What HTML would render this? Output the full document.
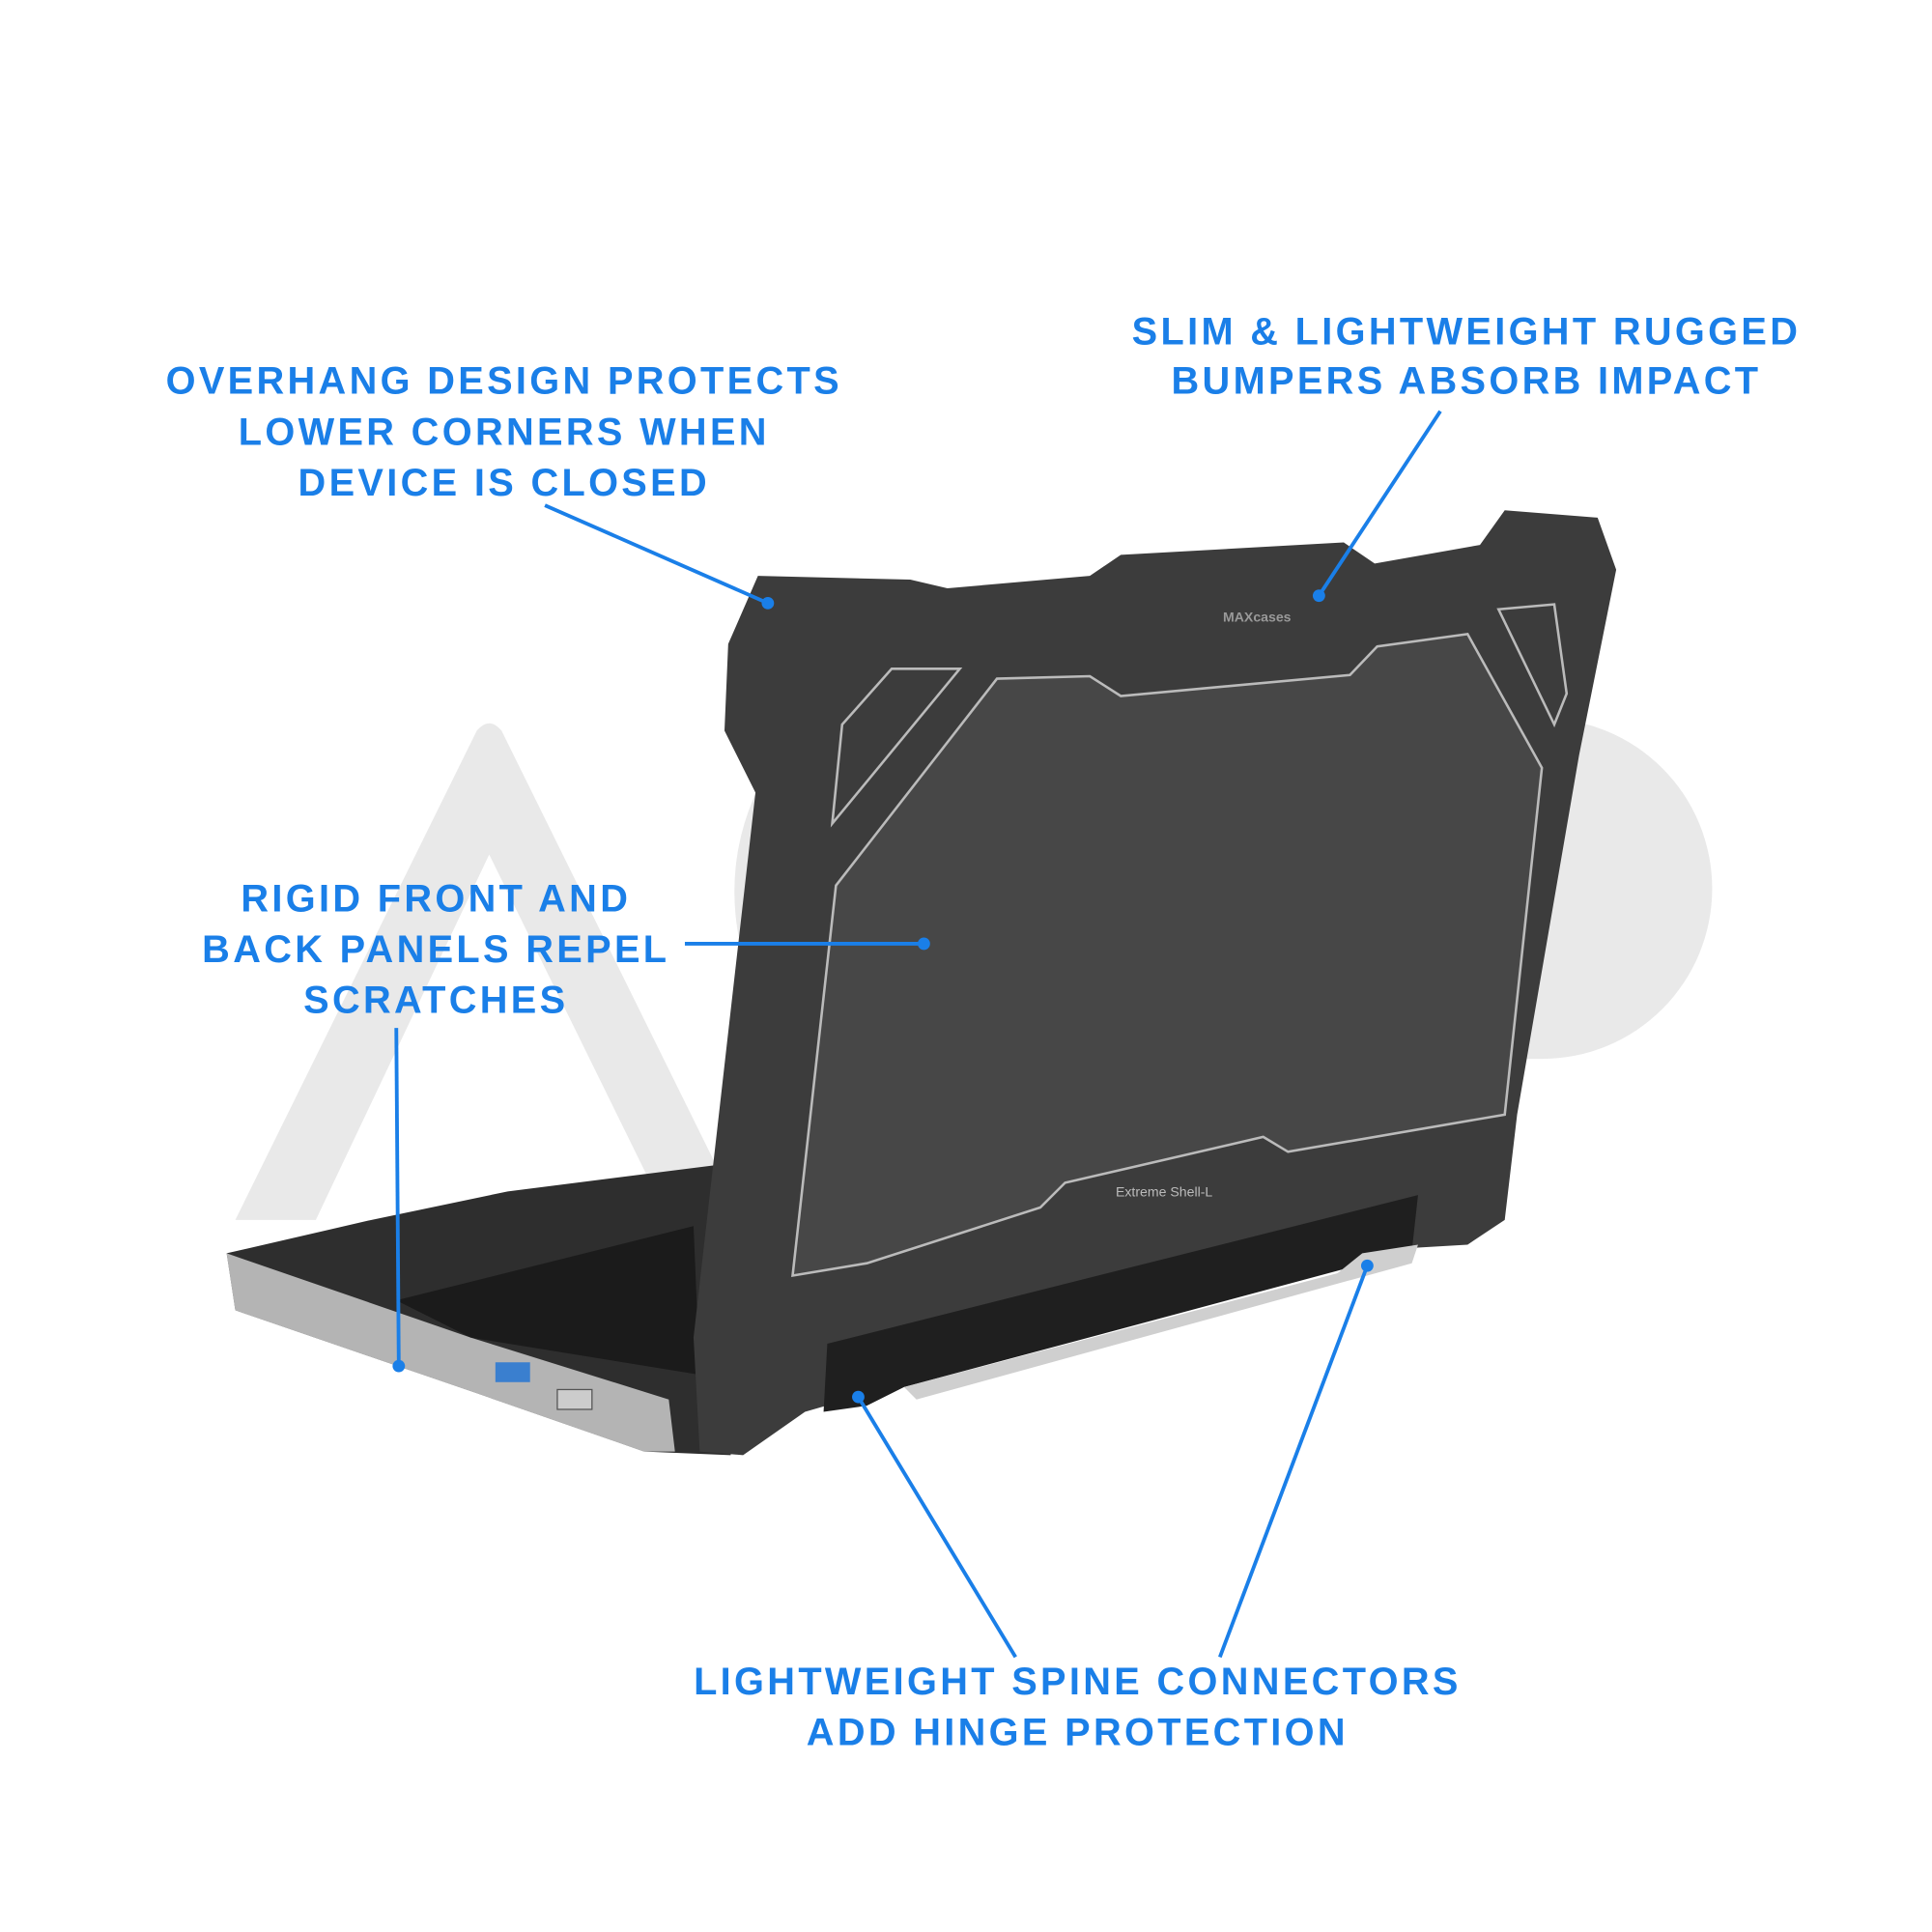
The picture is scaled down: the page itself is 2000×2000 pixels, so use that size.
<!DOCTYPE html>
<html><head><meta charset="utf-8"><style>
html,body{margin:0;padding:0;background:#fff;}
svg{display:block;}
text{font-family:"Liberation Sans",sans-serif;font-weight:bold;fill:#1a7fe8;font-size:31px;letter-spacing:2.6px;text-anchor:middle;}
</style></head><body>
<svg width="2000" height="2000" viewBox="0 0 1560 1560" xmlns="http://www.w3.org/2000/svg">
<rect width="1560" height="1560" fill="#fff"/>
<g fill="#e9e9e9">
<path d="M190 985 L385 590 Q395 578 405 590 L600 985 L540 985 L395 690 L255 985 Z"/>
<circle cx="785" cy="720" r="192"/>
<path d="M1035 580 L1245 580 A137 137 0 0 1 1245 855 L1115 855 L1115 985 L1035 985 Z"/>
</g>
<polygon points="183,1012 300,985 410,962 600,938 590,1175 520,1172 385,1125 190,1058" fill="#2e2e2e"/>
<polygon points="183,1012 190,1058 385,1125 520,1172 545,1172 540,1130 380,1080" fill="#d6d6d6" opacity="0.8"/>
<polygon points="320,1050 560,990 565,1110 380,1080" fill="#1b1b1b"/>
<rect x="400" y="1100" width="28" height="16" fill="#3a7fcf"/>
<rect x="450" y="1122" width="28" height="16" fill="#ccc" stroke="#555"/>
<polygon points="588,520 612,465 735,468 765,475 880,465 905,448 1085,438 1110,455 1195,440 1215,412 1290,418 1305,460 1275,610 1225,900 1215,985 1185,1005 1100,1010 650,1140 600,1175 565,1172 560,1080 610,640 585,590" fill="#3c3c3c"/>
<polygon points="640,1030 675,715 805,548 880,546 905,562 1090,545 1112,522 1185,512 1245,620 1215,900 1040,930 1020,918 860,955 840,975 700,1020" fill="#474747" stroke="#bbb" stroke-width="2"/>
<polygon points="672,665 680,585 720,540 775,540" fill="none" stroke="#bbb" stroke-width="2"/>
<polygon points="1210,492 1255,488 1265,560 1255,585" fill="none" stroke="#bbb" stroke-width="2"/>
<polygon points="668,1085 1145,965 1140,1010 730,1120 700,1135 665,1140" fill="#1f1f1f"/>
<polygon points="730,1120 1080,1028 1100,1012 1145,1005 1140,1020 740,1130" fill="#cfcfcf"/>
<text x="940" y="966" style="font-size:11px;fill:#bbb;font-weight:normal;letter-spacing:0">Extreme Shell-L</text>
<text x="1015" y="502" style="font-size:11px;fill:#999;letter-spacing:0">MAXcases</text>
<g stroke="#1a7fe8" stroke-width="3" fill="none">
<line x1="440" y1="408" x2="620" y2="487"/>
<line x1="1163" y1="332" x2="1065" y2="481"/>
<line x1="553" y1="762" x2="746" y2="762"/>
<line x1="320" y1="830" x2="322" y2="1103"/>
<line x1="820" y1="1338" x2="693" y2="1128"/>
<line x1="985" y1="1338" x2="1104" y2="1022"/>
</g>
<g fill="#1a7fe8">
<circle cx="620" cy="487" r="5"/><circle cx="1065" cy="481" r="5"/><circle cx="746" cy="762" r="5"/>
<circle cx="322" cy="1103" r="5"/><circle cx="693" cy="1128" r="5"/><circle cx="1104" cy="1022" r="5"/>
</g>
<text x="407" y="318">OVERHANG DESIGN PROTECTS</text>
<text x="407" y="359">LOWER CORNERS WHEN</text>
<text x="407" y="400">DEVICE IS CLOSED</text>
<text x="1184" y="278">SLIM &amp; LIGHTWEIGHT RUGGED</text>
<text x="1184" y="318">BUMPERS ABSORB IMPACT</text>
<text x="352" y="736">RIGID FRONT AND</text>
<text x="352" y="777">BACK PANELS REPEL</text>
<text x="352" y="818">SCRATCHES</text>
<text x="870" y="1368">LIGHTWEIGHT SPINE CONNECTORS</text>
<text x="870" y="1409">ADD HINGE PROTECTION</text>
</svg>
</body></html>
